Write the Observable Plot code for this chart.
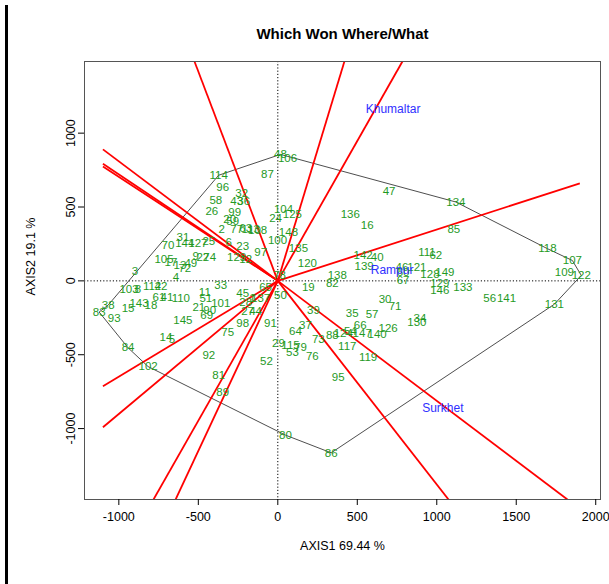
<!DOCTYPE html>
<html>
<head>
<meta charset="utf-8">
<script src="https://cdn.jsdelivr.net/npm/d3@7"></script>
<script src="https://cdn.jsdelivr.net/npm/@observablehq/plot@0.6"></script>
<style>
  body { margin: 0; background: #fff; }
  #wrap { position: relative; width: 609px; height: 584px; }
  #edge { position: absolute; left: 5px; top: 5px; width: 3px; height: 579px; background: #000; }
  #chart { position: absolute; left: 0; top: 0; }
</style>
</head>
<body>
<div id="wrap"><div id="edge"></div><div id="chart"></div></div>
<script>
// GGE biplot scores: genotype labels with their first two principal components
const genotypes = ["114","87","48","106","96","32","43","36","58","26","99","20","59","2","77","63","113","108","24","104","125","148","100","135","120","136","16","47","134","85","23","97","123","12","9","22","74","49","105","17","13","72","4","70","31","144","127","25","6","3","103","8","112","42","61","41","110","143","15","18","38","83","93","145","11","51","21","69","90","101","33","45","28","1","137","27","44","65","78","50","19","82","138","39","35","57","30","71","37","64","73","88","124","54","66","147","140","126","117","119","95","91","98","75","29","115","53","79","76","52","92","81","89","84","102","80","86","142","40","139","111","62","46","121","60","67","128","149","129","146","133","56","141","130","34","131","118","107","109","122","14","5"];
const genoPC1 = [-372,-65,17,61,-347,-227,-259,-215,-390,-415,-271,-303,-284,-353,-259,-202,-171,-127,-14,36,92,67,-2,130,186,456,562,700,1120,1107,-221,-108,-259,-202,-516,-472,-428,-547,-716,-672,-616,-585,-641,-691,-597,-585,-503,-434,-309,-898,-936,-879,-791,-735,-748,-697,-610,-873,-942,-798,-1067,-1124,-1029,-597,-459,-453,-497,-447,-428,-359,-359,-221,-202,-159,-108,-190,-140,-77,11,17,192,343,374,224,468,593,675,738,174,111,255,343,412,456,518,531,625,694,437,568,380,-46,-221,-315,4,80,92,142,217,-71,-434,-372,-347,-942,-816,48,336,537,625,543,938,994,781,875,788,788,957,1051,1019,1019,1164,1333,1439,875,894,1740,1696,1853,1803,1909,-704,-666];
const genoPC2 = [715,721,856,829,634,594,540,540,547,473,466,419,406,346,352,359,346,339,426,487,453,332,272,218,117,453,379,607,534,346,232,191,158,144,164,158,158,117,144,124,104,84,23,238,292,252,252,265,258,64,-57,-57,-37,-37,-111,-111,-117,-151,-185,-164,-164,-211,-252,-265,-77,-117,-178,-232,-198,-151,-30,-84,-144,-117,-117,-205,-205,-44,37,-97,-44,-17,37,-198,-218,-225,-124,-171,-299,-339,-393,-366,-352,-339,-299,-352,-359,-319,-446,-520,-654,-285,-285,-346,-426,-433,-487,-453,-513,-547,-507,-641,-755,-453,-580,-1044,-1164,171,158,97,191,171,91,91,57,3,44,57,-17,-64,-44,-117,-117,-279,-252,-158,218,138,57,37,-379,-399];

// Environment scores
const environments = ["Khumaltar","Rampur","Surkhet"];
const envPC1 = [725, 719, 1038];
const envPC2 = [1165, 71, -865];

// Polygon vertices (genotypes furthest from the origin), in drawing order
const hullOrder = ["114","48","134","118","107","122","131","86","80","102","84","83","38"];

// Sector boundary rays from the origin: end points
const rayPC1 = [-1100,-1100,-1100,-524,419,784,1900,1822,1074,-643,-782,-1100,-1100];
const rayPC2 = [890,793,775,1485,1485,1485,660,-1480,-1480,-1480,-1480,-991,-714];

const xTicks = [-1000, -500, 0, 500, 1000, 1500, 2000];
const yTicks = [-1000, -500, 0, 500, 1000];

const geno = genotypes.map((g, i) => ({g, x: genoPC1[i], y: genoPC2[i]}));
const envs = environments.map((e, i) => ({e, x: envPC1[i], y: envPC2[i]}));
const byName = new Map(geno.map(d => [d.g, d]));
const hull = [...hullOrder, hullOrder[0]].map(g => byName.get(g));
const rays = rayPC1.map((x, i) => ({x, y: rayPC2[i]}));

const font = "'Liberation Sans', Arial, Helvetica, sans-serif";

const chart = Plot.plot({
  width: 609,
  height: 584,
  marginLeft: 84,
  marginRight: 9,
  marginTop: 61,
  marginBottom: 85,
  x: {domain: [-1216, 2030]},
  y: {domain: [-1480, 1485]},
  style: {fontFamily: font, fontSize: "12.5px", background: "transparent", color: "#000", overflow: "visible"},
  marks: [
    Plot.ruleX([0], {stroke: "#000", strokeWidth: 1, strokeDasharray: "1.2,2"}),
    Plot.ruleY([0], {stroke: "#000", strokeWidth: 1, strokeDasharray: "1.2,2"}),
    Plot.line(hull, {x: "x", y: "y", stroke: "#3a3a3a", strokeWidth: 0.9, curve: "linear"}),
    Plot.link(rays, {x1: d => 0, y1: d => 0, x2: "x", y2: "y", stroke: "#ff0000", strokeWidth: 1.8, clip: true}),
    Plot.text(geno, {x: "x", y: "y", text: "g", fill: "#1f9a1f", fontSize: 11.5}),
    Plot.text(envs, {x: "x", y: "y", text: "e", fill: "#2f2fff", fontSize: 12}),
    Plot.frame({stroke: "#555", strokeWidth: 1}),
    Plot.axisX({ticks: xTicks, tickSize: 6, tickPadding: 7, tickFormat: d => String(d), label: null, fontSize: 12.5}),
    Plot.axisY({ticks: yTicks, tickSize: 6, tickPadding: 4, tickRotate: -90, tickFormat: d => String(d), label: null, fontSize: 12.5}),
    Plot.text(["Which Won Where/What"], {frameAnchor: "top", dy: -33, fontWeight: "bold", fontSize: 15}),
    Plot.text(["AXIS1 69.44 %"], {frameAnchor: "bottom", dy: 50, fontSize: 12.5}),
    Plot.text(["AXIS2 19.1 %"], {frameAnchor: "left", textAnchor: "middle", dx: -54, dy: -24, rotate: -90, fontSize: 12.5})
  ]
});

document.getElementById("chart").appendChild(chart);
</script>
</body>
</html>
